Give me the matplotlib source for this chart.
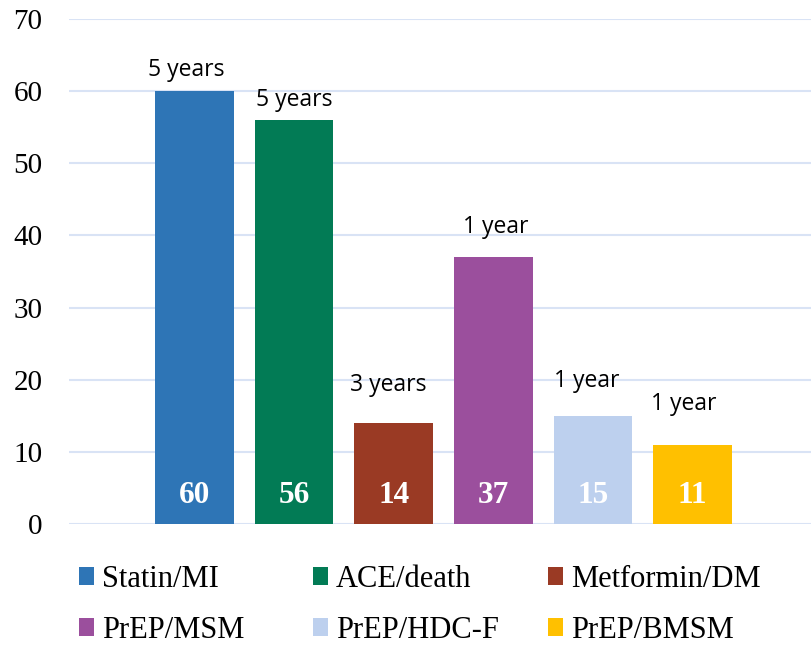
import matplotlib
matplotlib.use("Agg")
import matplotlib.pyplot as plt
from matplotlib.patches import Patch

categories = ["Statin/MI", "ACE/death", "Metformin/DM", "PrEP/MSM", "PrEP/HDC-F", "PrEP/BMSM"]
values = [60, 56, 14, 37, 15, 11]
durations = ["5 years", "5 years", "3 years", "1 year", "1 year", "1 year"]
y_ticks = [0, 10, 20, 30, 40, 50, 60, 70]

colors = ["#2E75B6", "#027B55", "#9A3A24", "#9B4F9D", "#BDD0EE", "#FFC000"]
# label placement (layout only)
label_y = [63.0, 58.8, 19.3, 41.2, 19.8, 16.7]
label_dx = [-0.08, 0.0, -0.05, 0.02, -0.06, -0.09]

W, H = 811, 646
fig = plt.figure(figsize=(W / 100, H / 100), dpi=100)
ax = fig.add_axes([69 / W, 1 - 524 / H, 1 - 69 / W, (524 - 19) / H])

x = list(range(len(values)))
ax.bar(x, values, width=0.79, color=colors, zorder=3)

for i, v in enumerate(values):
    ax.text(i, 4.0, str(v), ha="center", va="center", color="white",
            fontsize=22.5, fontweight="bold", family="Liberation Serif", zorder=4)
    ax.text(i + label_dx[i], label_y[i], durations[i], ha="center", va="center",
            color="black", fontsize=16.5, family="Open Sans", zorder=4)

ax.set_xlim(-1.26, 6.19)
ax.set_ylim(0, 70)
ax.set_yticks(y_ticks)
ax.set_yticklabels([str(t) for t in y_ticks], family="Liberation Serif", fontsize=21)
ax.tick_params(axis="y", length=0, pad=19)
ax.set_xticks([])
ax.grid(axis="y", color="#D9E3F5", linewidth=1.5, zorder=0)
for s in ax.spines.values():
    s.set_visible(False)

# legend: 3 columns, 2 rows, filled row-wise
col_left_px = [79, 313, 548]
for c in range(3):
    idx = [c, c + 3]
    handles = [Patch(facecolor=colors[k], label=categories[k]) for k in idx]
    fig.legend(handles=handles, loc="center left",
               bbox_to_anchor=(col_left_px[c] / W, 1 - 605 / H),
               frameon=False, borderpad=0, borderaxespad=0,
               prop={"family": "Liberation Serif", "size": 22},
               handlelength=0.5, handleheight=0.5, handletextpad=0.25,
               labelspacing=0.72)

fig.savefig("out.png", dpi=100)
